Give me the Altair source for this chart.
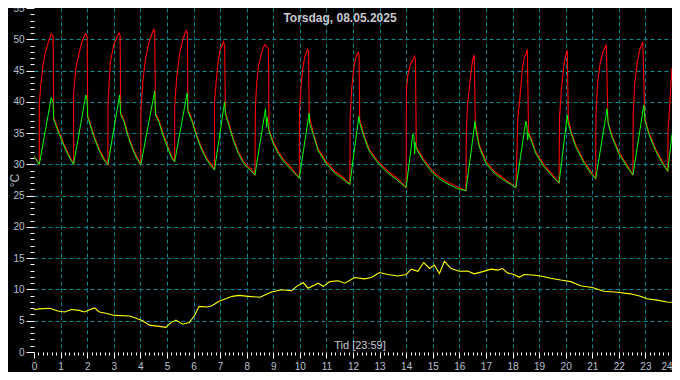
import altair as alt
import pandas as pd

# ---------------- data ----------------
red_hours = [
    0.0, 0.2,
    0.2, 0.26, 0.35, 0.45, 0.57, 0.65, 0.72, 0.74, 0.95, 1.14, 1.32, 1.49,
    1.49, 1.57, 1.67, 1.79, 1.91, 1.95, 2.0, 2.02, 2.07, 2.26, 2.45, 2.63, 2.78,
    2.78, 2.87, 2.99, 3.12, 3.2, 3.24, 3.26, 3.38, 3.55, 3.73, 3.88, 4.02,
    4.02, 4.1, 4.2, 4.32, 4.45, 4.5, 4.54, 4.57, 4.69, 4.88, 5.07, 5.18, 5.29,
    5.29, 5.37, 5.47, 5.6, 5.7, 5.73, 5.77, 5.79, 5.94, 6.13, 6.32, 6.5, 6.69, 6.79,
    6.79, 6.85, 6.92, 7.0, 7.13, 7.17, 7.2, 7.32, 7.5, 7.69, 7.88, 8.04, 8.19, 8.31,
    8.33, 8.37, 8.44, 8.56, 8.65, 8.69, 8.82, 8.84, 9.0, 9.19, 9.44, 9.73, 9.98,
    9.99, 10.04, 10.11, 10.19, 10.29, 10.33, 10.35, 10.5, 10.69, 10.98, 11.31, 11.63, 11.88,
    11.89, 11.95, 12.03, 12.12, 12.19, 12.23, 12.25, 12.38, 12.6, 12.94, 13.31, 13.63, 14.0,
    14.01, 14.06, 14.16, 14.24, 14.31, 14.35, 14.38, 14.63, 15.0, 15.25, 15.5, 15.94, 16.25,
    16.26, 16.31, 16.37, 16.44, 16.5, 16.56, 16.6, 16.75, 17.0, 17.31, 17.63, 18.13,
    18.15, 18.2, 18.31, 18.37, 18.44, 18.5, 18.56, 18.6, 18.88, 19.19, 19.5, 19.75,
    19.77, 19.84, 19.92, 20.0, 20.06, 20.1, 20.2, 20.38, 20.69, 20.94, 21.13,
    21.14, 21.2, 21.3, 21.42, 21.53, 21.59, 21.75, 22.0, 22.31, 22.53,
    22.54, 22.6, 22.7, 22.8, 22.9, 22.98, 23.13, 23.38, 23.63, 23.84,
    23.85, 23.92, 24.0,
]
red_temp = [
    31.3, 30.0,
    39.8, 42.9, 46.3, 48.3, 49.9, 50.9, 50.6, 37.5, 35.1, 33.1, 31.5, 30.0,
    41.3, 45.2, 47.3, 49.4, 50.7, 50.9, 50.5, 37.8, 37.2, 34.6, 32.5, 31.0, 30.0,
    39.5, 46.3, 48.9, 50.4, 51.0, 50.6, 38.3, 37.2, 34.6, 32.5, 31.1, 30.0,
    38.5, 43.5, 47.0, 49.5, 51.0, 51.6, 51.2, 38.1, 37.2, 34.6, 32.5, 31.3, 30.4,
    39.0, 44.0, 47.5, 50.0, 51.2, 51.4, 51.0, 38.8, 37.2, 34.6, 32.5, 31.0, 29.9, 29.1,
    40.0, 43.0, 46.3, 48.3, 49.6, 49.0, 38.3, 36.7, 34.1, 32.0, 30.5, 29.7, 29.2, 28.3,
    39.0, 42.6, 45.7, 47.8, 48.9, 49.1, 48.5, 35.6, 33.6, 32.0, 30.5, 29.2, 27.8,
    38.6, 42.2, 45.3, 47.3, 48.4, 48.0, 37.8, 35.1, 32.5, 30.5, 28.9, 27.9, 26.8,
    37.0, 42.0, 45.5, 47.3, 47.9, 47.5, 37.3, 35.1, 32.5, 30.5, 28.9, 27.9, 26.3,
    42.0, 44.2, 46.0, 46.5, 47.3, 46.8, 32.8, 31.0, 28.9, 28.0, 27.3, 26.4, 25.8,
    34.8, 39.5, 42.0, 44.7, 46.8, 47.5, 36.8, 33.1, 30.5, 28.9, 27.9, 26.3,
    29.5, 37.4, 42.0, 45.3, 47.1, 47.6, 48.4, 35.3, 32.0, 29.9, 28.4, 27.0,
    37.5, 42.0, 45.5, 47.5, 48.2, 37.3, 35.3, 33.1, 30.5, 28.9, 27.7,
    38.0, 43.0, 46.3, 48.2, 49.1, 36.8, 34.6, 32.0, 29.9, 28.3,
    38.0, 43.0, 46.5, 48.5, 49.6, 37.3, 35.1, 32.5, 30.5, 28.9,
    35.0, 40.0, 45.5,
]

green_hours = [
    0.0, 0.2, 0.65, 0.72, 0.74, 0.95, 1.14, 1.32, 1.49,
    1.95, 2.0, 2.02, 2.07, 2.26, 2.45, 2.63, 2.78,
    3.22, 3.26, 3.38, 3.55, 3.73, 3.88, 4.02,
    4.54, 4.57, 4.69, 4.88, 5.07, 5.18, 5.29,
    5.76, 5.79, 5.94, 6.13, 6.32, 6.5, 6.69, 6.79,
    7.17, 7.2, 7.32, 7.5, 7.69, 7.88, 8.04, 8.19, 8.31,
    8.71, 8.75, 8.77, 8.84, 9.0, 9.19, 9.44, 9.73, 9.98,
    10.35, 10.37, 10.5, 10.69, 10.98, 11.31, 11.63, 11.88,
    12.22, 12.26, 12.38, 12.6, 12.94, 13.31, 13.63, 14.0,
    14.25, 14.29, 14.32, 14.34, 14.38, 14.63, 15.0, 15.25, 15.5, 15.94, 16.25,
    16.59, 16.62, 16.75, 17.0, 17.31, 17.63, 18.13,
    18.5, 18.54, 18.57, 18.6, 18.88, 19.19, 19.5, 19.75,
    20.06, 20.1, 20.2, 20.38, 20.69, 20.94, 21.13,
    21.56, 21.6, 21.75, 22.0, 22.31, 22.53,
    22.94, 22.98, 23.13, 23.38, 23.63, 23.84,
    24.0,
]
green_temp = [
    31.3, 30.0, 40.7, 39.8, 37.2, 34.8, 32.8, 31.2, 30.0,
    41.1, 40.2, 37.5, 36.9, 34.3, 32.2, 30.7, 30.0,
    41.1, 38.0, 36.9, 34.3, 32.2, 30.8, 30.0,
    41.7, 37.8, 36.9, 34.3, 32.2, 31.0, 30.4,
    41.4, 38.5, 36.9, 34.3, 32.2, 30.7, 29.6, 29.1,
    40.0, 38.0, 36.4, 33.8, 31.7, 30.2, 29.4, 28.9, 28.3,
    38.9, 36.0, 37.5, 35.3, 33.3, 31.7, 30.2, 28.9, 27.8,
    38.2, 36.5, 34.8, 32.2, 30.2, 28.6, 27.6, 26.8,
    37.7, 36.5, 34.8, 32.2, 30.2, 28.6, 27.6, 26.3,
    34.8, 34.5, 31.7, 33.5, 32.5, 30.7, 28.6, 27.7, 27.0, 26.1, 25.8,
    36.9, 35.5, 32.8, 30.2, 28.6, 27.6, 26.3,
    36.9, 36.2, 33.9, 35.0, 31.7, 29.6, 28.1, 27.0,
    37.8, 36.5, 35.0, 32.8, 30.2, 28.6, 27.7,
    38.9, 36.5, 34.3, 31.7, 29.6, 28.3,
    39.5, 37.0, 34.8, 32.2, 30.2, 28.9,
    34.8,
]

outdoor_hours = [
    0.0, 0.2, 0.59, 0.9, 1.15, 1.4, 1.7, 1.9, 2.09, 2.28, 2.46, 2.7, 3.03, 3.6,
    3.84, 4.09, 4.34, 4.71, 4.96, 5.15, 5.34, 5.59, 5.84, 6.03, 6.21, 6.53, 6.71,
    6.96, 7.28, 7.46, 7.71, 8.06, 8.5, 8.94, 9.31, 9.69, 9.88, 10.13, 10.31, 10.69,
    10.88, 11.13, 11.44, 11.69, 12.06, 12.44, 12.69, 13.0, 13.31, 13.69, 14.0,
    14.19, 14.44, 14.66, 14.88, 15.06, 15.25, 15.44, 15.69, 16.0, 16.31, 16.56,
    16.88, 17.19, 17.44, 17.63, 17.81, 18.06, 18.25, 18.44, 18.75, 19.06, 19.44,
    19.81, 20.19, 20.56, 21.0, 21.44, 21.94, 22.44, 22.81, 23.06, 23.44, 23.81, 24.0,
]
outdoor_temp = [
    6.75, 6.9, 7.0, 6.55, 6.4, 6.8, 6.65, 6.4, 6.75, 7.05, 6.4, 6.2, 5.85, 5.75,
    5.4, 5.0, 4.3, 4.1, 3.95, 4.7, 5.1, 4.45, 4.7, 5.75, 7.3, 7.2, 7.45,
    8.1, 8.65, 8.9, 9.05, 8.9, 8.75, 9.6, 9.95, 9.8, 10.5, 11.1, 10.2, 11.0,
    10.5, 11.25, 11.4, 11.0, 11.9, 11.7, 11.9, 12.7, 12.4, 12.15, 12.4,
    13.25, 12.9, 14.3, 13.35, 13.9, 12.55, 14.5, 13.35, 12.9, 12.95, 12.5,
    12.85, 13.25, 13.1, 13.35, 12.65, 12.4, 11.95, 12.4, 12.3, 12.15, 11.8,
    11.5, 11.25, 10.6, 10.3, 9.7, 9.55, 9.3, 8.9, 8.5, 8.3, 8.0, 7.95,
]

title_text = "Torsdag, 08.05.2025"
x_title_text = "Tid [23:59]"
y_title_text = "°C"
x_tick_values = [i / 6 for i in range(145)]
y_tick_values = list(range(56))

# ---------------- styling ----------------
GRID = "#008a96"
LABEL = "#b8c0d0"
FONT = "Liberation Sans"

is_int = "abs(datum.value - round(datum.value)) < 0.001"

x_axis = alt.Axis(
    values=x_tick_values,
    labelExpr=f"{is_int} ? toString(round(datum.value)) : ''",
    tickSize={"condition": {"test": is_int, "value": 6}, "value": 3},
    tickColor="#ffffff",
    grid=True,
    gridColor={"condition": {"test": "datum.value > 23.99", "value": "#3ee4ff"}, "value": GRID},
    gridOpacity={"condition": {"test": f"{is_int} && datum.value > 0.5", "value": 1}, "value": 0},
    gridDash=[4, 3],
    gridWidth=1,
    domain=False,
    labelColor=LABEL,
    labelFont=FONT,
    labelFontSize=10,
    labelPadding=3,
    labelAlign={"condition": {"test": "datum.value > 23.9", "value": "right"}, "value": "center"},
    labelFlush=False,
    labelOverlap=False,
    title=None,
)

y_axis = alt.Axis(
    values=y_tick_values,
    labelExpr="datum.value % 5 === 0 ? toString(datum.value) : ''",
    tickSize={"condition": {"test": "datum.value % 5 === 0", "value": 8}, "value": 4},
    tickColor="#ffffff",
    grid=True,
    gridColor=GRID,
    gridOpacity={"condition": {"test": "datum.value % 5 === 0 && datum.value > 0 && datum.value < 55", "value": 1}, "value": 0},
    gridDash=[4, 3],
    gridWidth=1,
    domain=False,
    labelColor=LABEL,
    labelFont=FONT,
    labelFontSize=10,
    labelPadding=2,
    labelOverlap=False,
    labelFlush=False,
    title=y_title_text,
    titleColor=LABEL,
    titleFont=FONT,
    titleFontSize=12,
    titleFontWeight="normal",
    titleAngle=270,
    titleX=-20,
    titleY=172,
    titleAlign="center",
    titleBaseline="middle",
)

x_scale = alt.Scale(domain=[0, 24], nice=False, zero=False)
y_scale = alt.Scale(domain=[0, 55], nice=False, zero=False)


def series(hours, temps, color, width):
    df = pd.DataFrame({"t": hours, "v": temps, "i": list(range(len(hours)))})
    return alt.Chart(df).mark_line(color=color, strokeWidth=width, clip=True).encode(
        x=alt.X("t:Q", scale=x_scale, axis=x_axis),
        y=alt.Y("v:Q", scale=y_scale, axis=y_axis),
        order=alt.Order("i:Q"),
    )


red = series(red_hours, red_temp, "#ff0000", 1.1)
green = series(green_hours, green_temp, "#00ff00", 1.0)
yellow = series(outdoor_hours, outdoor_temp, "#ffff00", 1.1)

title_layer = alt.Chart(pd.DataFrame({"label": [title_text]})).mark_text(
    font=FONT, fontSize=12, fontWeight="bold", color="#c8c8d0", baseline="alphabetic", align="center"
).encode(x=alt.value(306), y=alt.value(14), text="label:N")

xtitle_layer = alt.Chart(pd.DataFrame({"label": [x_title_text]})).mark_text(
    font=FONT, fontSize=11, color="#c8c8d0", baseline="alphabetic", align="center"
).encode(x=alt.value(326), y=alt.value(341), text="label:N")

chart = (
    alt.layer(red, green, yellow, title_layer, xtitle_layer)
    .properties(
        width=638,
        height=344,
        autosize=alt.AutoSizeParams(type="none"),
        padding={"left": 26, "top": 0, "right": 0, "bottom": 20},
        background="#000000",
    )
    .configure_view(stroke=None, fill="#000000")
)

chart.save("out.html", embed_options={"renderer": "svg", "actions": False})
